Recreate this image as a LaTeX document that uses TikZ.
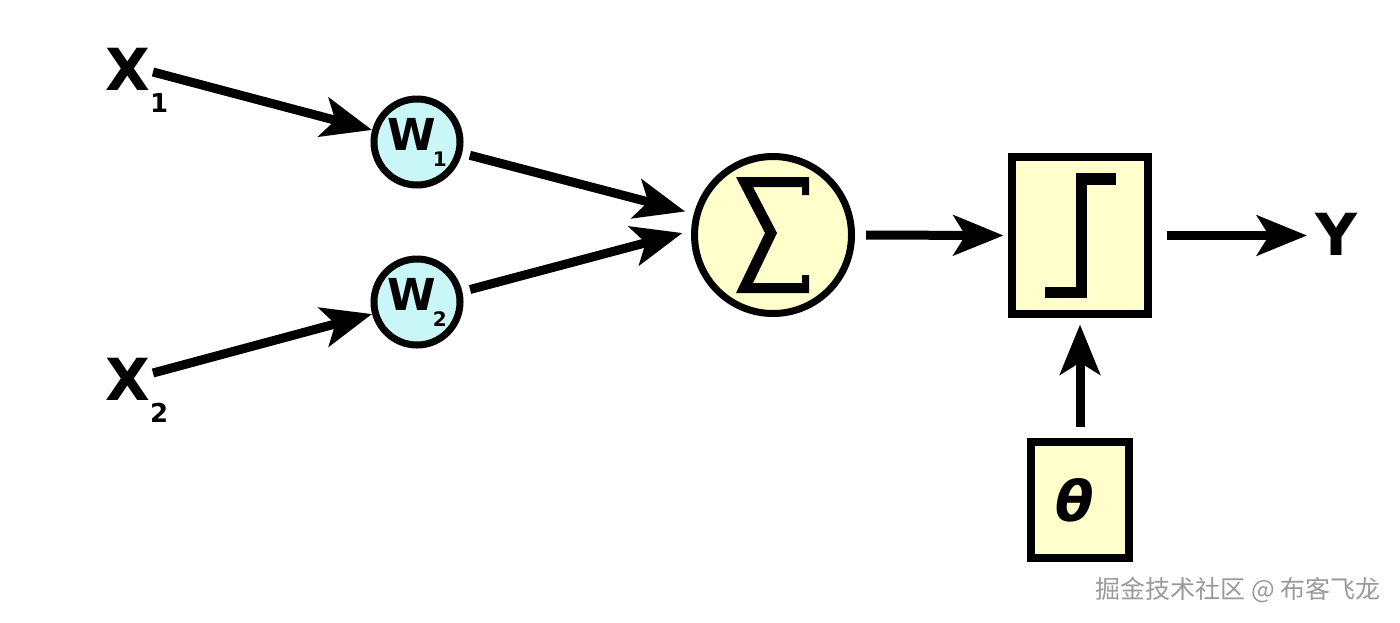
\documentclass[tikz,border=0pt]{standalone}
\usepackage{fontspec}
\setmainfont{DejaVu Sans}
\newfontfamily\cjkfont{Noto Sans CJK SC}
\usetikzlibrary{arrows.meta}
\definecolor{wcyan}{HTML}{C9F7F7}
\definecolor{pyellow}{HTML}{FFFFCC}
\definecolor{wmgray}{HTML}{9A9A9A}
\begin{document}
\begin{tikzpicture}[x=0.5pt,y=-0.5pt,
  conn/.style={line width=4.5pt,-{Stealth[length=25pt,width=20pt,inset=6pt]}},
  wnode/.style={circle,draw,line width=3.5pt,fill=wcyan,minimum size=43pt,inner sep=0pt},
  sumnode/.style={circle,draw,line width=3.5pt,fill=pyellow,minimum size=78.5pt,inner sep=0pt},
  boxnode/.style={rectangle,draw,line width=4pt,fill=pyellow,inner sep=0pt},
  biglabel/.style={anchor=base west,inner sep=0pt,font=\fontsize{29}{29}\selectfont\bfseries},
  wlabel/.style={font=\fontsize{22}{22}\selectfont\bfseries}
]
\fill[white] (0,0) rectangle (1400,622);
\useasboundingbox (0,0) rectangle (1400,622);

% inputs
\node[biglabel] (x1) at (105,90) {X\raisebox{-11pt}{\fontsize{13}{13}\selectfont 1}};
\node[biglabel] (x2) at (105,400) {X\raisebox{-11pt}{\fontsize{13}{13}\selectfont 2}};
\coordinate (c1) at (153,72);
\coordinate (c2) at (153,373);

% weights
\node[wnode,wlabel] (w1) at (417,142) {W\kern-1.5pt\raisebox{-8pt}{\fontsize{10}{10}\selectfont 1}};
\node[wnode,wlabel] (w2) at (417,302) {W\kern-1.5pt\raisebox{-8pt}{\fontsize{10}{10}\selectfont 2}};

% sum
\node[sumnode] (sum) at (773,235) {};
\fill (736,177) -- (809,177) -- (809,195) -- (802,195) -- (802,187) -- (753,187)
  -- (777,233) -- (753,283) -- (802,283) -- (802,275) -- (809,275) -- (809,293)
  -- (736,293) -- (765,233) -- cycle;

% step function
\node[boxnode,minimum width=68pt,minimum height=78.5pt] (step) at (1080,235.5) {};
\draw[line width=5.75pt,miter limit=10] (1045,292.5) -- (1081.5,292.5) -- (1081.5,179) -- (1116,179);

% threshold
\node[boxnode,minimum width=49pt,minimum height=58pt,font=\fontsize{28}{28}\selectfont\bfseries\itshape] (theta) at (1080,500) {θ\kern5pt};

% output
\node[biglabel] (y) at (1315,255) {Y};

% connectors
\draw[conn] (c1) -- (w1.165);
\draw[conn] (c2) -- (w2.195);
\draw[conn,shorten <=4pt,shorten >=4.5pt] (w1.-14) -- (sum.165);
\draw[conn,shorten <=4pt,shorten >=4.5pt] (w2.13) -- (sum.177);
\draw[conn,shorten <=5.5pt,shorten >=2.25pt] (sum.east) -- (step.west);
\draw[conn,shorten <=7.25pt,shorten >=4pt] (step.east) -- (step.east -| y.west);
\draw[conn,shorten <=5.75pt,shorten >=3.25pt] (theta.north) -- (step.south);

% watermark
\node[anchor=base east,inner sep=0pt,text=wmgray,font=\cjkfont\fontsize{12.5}{12.5}\selectfont] (wm) at (1381,598) {掘金技术社区 @ 布客飞龙};
\end{tikzpicture}
\end{document}
